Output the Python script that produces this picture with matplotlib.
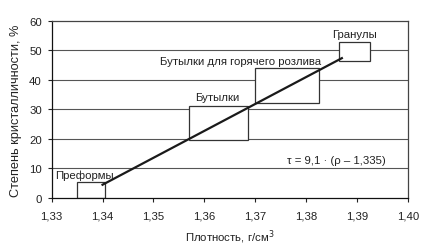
import numpy as np
import matplotlib
matplotlib.use('Agg')
import matplotlib.pyplot as plt
from matplotlib.patches import Rectangle

## Data
x_ticks = [1.33, 1.34, 1.35, 1.36, 1.37, 1.38, 1.39, 1.40]
x_tick_labels = ['1,33', '1,34', '1,35', '1,36', '1,37', '1,38', '1,39', '1,40']
y_ticks = [0, 10, 20, 30, 40, 50, 60]

## Fitted line tau = 9,1 * (rho - 1,335), in %
line_rho = [1.340, 1.387]
line_tau = [4.5, 47.3]

## Product regions: (rho_min, rho_max, tau_min, tau_max)
region_names = ['Преформы', 'Бутылки', 'Бутылки для горячего розлива', 'Гранулы']
region_rho_min = [1.335, 1.357, 1.370, 1.3865]
region_rho_max = [1.3405, 1.3686, 1.3826, 1.3925]
region_tau_min = [0, 19.5, 32, 46.5]
region_tau_max = [5.3, 31, 44, 52.6]

## Label anchors for the regions
label_x = [1.3307, 1.3625, 1.3672, 1.3895]
label_y = [8.0, 34.0, 46.4, 55.4]
label_ha = ['left', 'center', 'center', 'center']

plt.rcParams['font.family'] = ['Liberation Sans', 'DejaVu Sans']
plt.rcParams['font.size'] = 8.2

fig = plt.figure(figsize=(4.45, 2.51), dpi=100)
ax = fig.add_axes([0.116, 0.207, 0.801, 0.707])

## Horizontal grid
for y in y_ticks[1:-1]:
    ax.axhline(y, color='#555555', linewidth=0.8, zorder=0)

## Region boxes
for i in range(len(region_names)):
    w = region_rho_max[i] - region_rho_min[i]
    h = region_tau_max[i] - region_tau_min[i]
    ax.add_patch(Rectangle((region_rho_min[i], region_tau_min[i]), w, h,
                           facecolor='white', edgecolor='#333333', linewidth=0.9, zorder=2))
    ax.text(label_x[i], label_y[i], region_names[i], ha=label_ha[i], va='center',
            color='#222222', zorder=4)

## Line
ax.plot(line_rho, line_tau, color='#1a1a1a', linewidth=1.6, zorder=3)

ax.text(1.3859, 12.8, 'τ = 9,1 · (ρ – 1,335)', ha='center', va='center', color='#222222')

ax.set_xlim(1.33, 1.40)
ax.set_ylim(0, 60)
ax.set_xticks(x_ticks)
ax.set_xticklabels(x_tick_labels)
ax.set_yticks(y_ticks)
ax.tick_params(direction='out', length=3, width=0.8, colors='#222222', pad=4)
ax.tick_params(axis='x', pad=6)

for s in ax.spines.values():
    s.set_color('#444444')
    s.set_linewidth(0.9)
ax.spines['left'].set_color('#111111')
ax.spines['bottom'].set_color('#111111')

ax.set_xlabel('Плотность, г/см$^3$', color='#222222', labelpad=5)
ax.set_ylabel('Степень кристалличности, %', color='#222222', labelpad=5, fontsize=9.2)

fig.savefig('out.png', dpi=100)
